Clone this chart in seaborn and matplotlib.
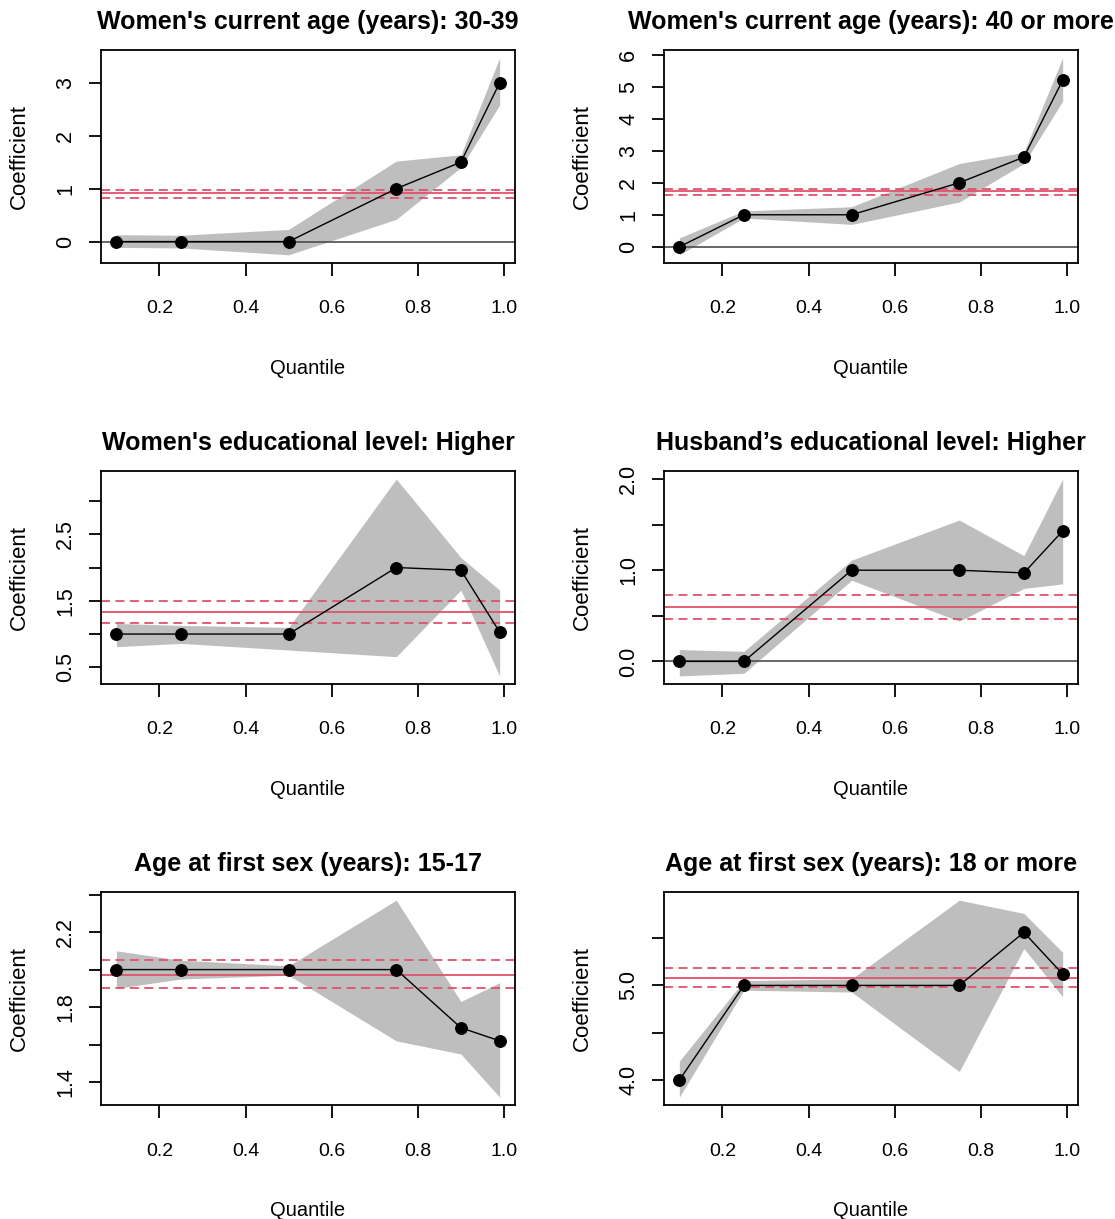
import numpy as np
import pandas as pd
import seaborn as sns
from matplotlib import pyplot as plt

quantiles = [0.1, 0.25, 0.5, 0.75, 0.9, 0.99]

titles = ["Women's current age (years): 30-39",
          "Women's current age (years): 40 or more",
          "Women's educational level: Higher",
          "Husband\u2019s educational level: Higher",
          "Age at first sex (years): 15-17",
          "Age at first sex (years): 18 or more"]

coef_1 = [0.0, 0.0, 0.0, 1.0, 1.5, 3.0]
lo_1 = [-0.11, -0.12, -0.25, 0.42, 1.40, 2.58]
hi_1 = [0.13, 0.12, 0.23, 1.52, 1.64, 3.47]
ols_1 = [0.91, 0.83, 0.98]

coef_2 = [0.0, 1.0, 1.0, 2.0, 2.8, 5.2]
lo_2 = [-0.25, 0.9, 0.7, 1.4, 2.6, 4.55]
hi_2 = [0.28, 1.12, 1.25, 2.6, 2.95, 5.9]
ols_2 = [1.75, 1.62, 1.80]

coef_3 = [1.0, 1.0, 1.0, 2.0, 1.96, 1.03]
lo_3 = [0.81, 0.86, 0.76, 0.66, 1.66, 0.37]
hi_3 = [1.16, 1.13, 1.10, 3.33, 2.15, 1.66]
ols_3 = [1.33, 1.17, 1.50]

coef_4 = [0.0, 0.0, 1.0, 1.0, 0.97, 1.43]
lo_4 = [-0.16, -0.13, 0.89, 0.44, 0.80, 0.85]
hi_4 = [0.13, 0.11, 1.11, 1.55, 1.16, 2.0]
ols_4 = [0.60, 0.47, 0.73]

coef_5 = [2.0, 2.0, 2.0, 2.0, 1.69, 1.62]
lo_5 = [1.90, 1.95, 1.97, 1.62, 1.55, 1.32]
hi_5 = [2.10, 2.05, 2.02, 2.37, 1.83, 1.93]
ols_5 = [1.97, 1.90, 2.05]

coef_6 = [4.0, 5.0, 5.0, 5.0, 5.56, 5.12]
lo_6 = [3.82, 4.95, 4.93, 4.09, 5.39, 4.88]
hi_6 = [4.2, 5.05, 5.07, 5.9, 5.76, 5.35]
ols_6 = [5.08, 4.98, 5.18]

yticks = [[0, 1, 2, 3],
          [0, 1, 2, 3, 4, 5, 6],
          [0.5, 1.0, 1.5, 2.0, 2.5, 3.0],
          [0.0, 0.5, 1.0, 1.5, 2.0],
          [1.4, 1.6, 1.8, 2.0, 2.2, 2.4],
          [4.0, 4.5, 5.0, 5.5]]
ylabels = [['0', '1', '2', '3'],
           ['0', '1', '2', '3', '4', '5', '6'],
           ['0.5', '', '1.5', '', '2.5', ''],
           ['0.0', '', '1.0', '', '2.0'],
           ['1.4', '', '1.8', '', '2.2', ''],
           ['4.0', '', '5.0', '']]
xticks = [0.2, 0.4, 0.6, 0.8, 1.0]

panels = [(coef_1, lo_1, hi_1, ols_1), (coef_2, lo_2, hi_2, ols_2),
          (coef_3, lo_3, hi_3, ols_3), (coef_4, lo_4, hi_4, ols_4),
          (coef_5, lo_5, hi_5, ols_5), (coef_6, lo_6, hi_6, ols_6)]

sns.set_style('white')
plt.rcParams['font.family'] = ['Liberation Sans', 'DejaVu Sans']
for k in ['text.color', 'axes.labelcolor', 'xtick.color', 'ytick.color']:
    plt.rcParams[k] = 'black'

fig, axes = plt.subplots(3, 2, figsize=(11.15, 12.19), dpi=100)
fig.subplots_adjust(left=0.0906, right=0.9668, top=0.959, bottom=0.0935,
                    wspace=0.36, hspace=0.98)

red = '#DF536B'
for i, ax in enumerate(axes.flat):
    coef, lo, hi, ols = panels[i]
    df = pd.DataFrame({'Quantile': quantiles, 'Coefficient': coef, 'lo': lo, 'hi': hi})
    ax.fill_between(df['Quantile'], df['lo'], df['hi'], color='#BEBEBE', lw=0)
    ax.axhline(0, color='#4D4D4D', lw=1.2)
    ax.axhline(ols[0], color=red, lw=1.3)
    ax.axhline(ols[1], color=red, lw=1.3, ls=(0, (5, 3)))
    ax.axhline(ols[2], color=red, lw=1.3, ls=(0, (5, 3)))
    sns.lineplot(data=df, x='Quantile', y='Coefficient', ax=ax, color='black',
                 lw=1.0, marker='o', markersize=8.5, markeredgecolor='black')

    ymin, ymax = min(lo), max(hi)
    pad = 0.04 * (ymax - ymin)
    ax.set_ylim(ymin - pad, ymax + pad)
    ax.set_xlim(0.1 - 0.04 * 0.89, 0.99 + 0.04 * 0.89)

    ax.set_xticks(xticks)
    ax.set_xticklabels(['0.2', '0.4', '0.6', '0.8', '1.0'])
    ax.set_yticks(yticks[i])
    ax.set_yticklabels(ylabels[i], rotation=90, va='center')
    ax.tick_params(axis='both', direction='out', length=9, width=1.3, color='black',
                   left=True, bottom=True)
    ax.tick_params(axis='x', pad=18, labelsize=14)
    ax.tick_params(axis='y', pad=9, labelsize=15.5)
    for s in ax.spines.values():
        s.set_color('black')
        s.set_linewidth(1.3)

    ax.set_title(titles[i], fontsize=18, fontweight='bold', pad=15)
    ax.set_xlabel('Quantile', fontsize=14.5, labelpad=30)
    ax.set_ylabel('Coefficient', fontsize=16, labelpad=18)

fig.savefig('out.png', dpi=100)
